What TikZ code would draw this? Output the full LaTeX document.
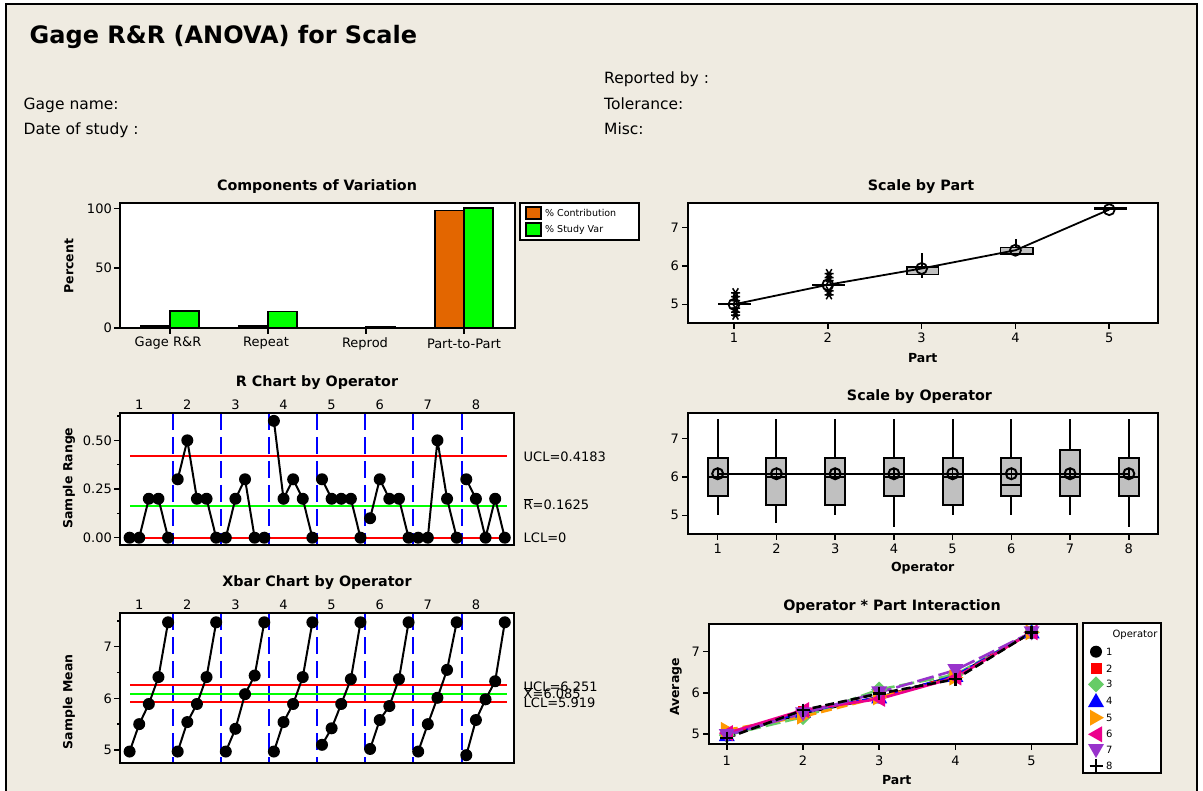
\documentclass[tikz,border=0pt]{standalone}
\usepackage{fontspec}
\setmainfont{DejaVu Sans}
\definecolor{paper}{RGB}{239,235,225}
\definecolor{barorange}{RGB}{227,102,0}
\definecolor{bargreen}{RGB}{0,255,0}
\definecolor{boxgray}{RGB}{192,192,192}
\definecolor{oporange}{RGB}{255,153,0}
\definecolor{opgreen}{RGB}{102,204,102}
\definecolor{oppurple}{RGB}{153,51,204}
\newcommand\fs[1]{\fontsize{#1}{#1}\selectfont}
\tikzset{
  ttl/.style={font=\bfseries\fs{14.3}},
  axlab/.style={font=\bfseries\fs{12.5}},
  num/.style={font=\fs{13}},
  info/.style={font=\fs{15.5}, anchor=base west, inner sep=0pt},
  plotbox/.style={draw=black, line width=2pt},
  axtick/.style={line width=1.5pt},
  divider/.style={draw=blue, line width=2pt, dash pattern=on 17pt off 7pt},
  ctrlred/.style={draw=red, line width=2pt},
  ctrlgreen/.style={draw=bargreen, line width=2pt},
  series/.style={line width=2pt, line join=round},
  ln1/.style={draw=black},
  ln2/.style={draw=red, dash pattern=on 9pt off 4pt},
  ln3/.style={draw=opgreen, dash pattern=on 15pt off 5pt},
  ln4/.style={draw=blue, dash pattern=on 11pt off 3pt on 3pt off 3pt},
  ln5/.style={draw=oporange, dash pattern=on 11pt off 5pt},
  ln6/.style={draw=magenta},
  ln7/.style={draw=oppurple, dash pattern=on 17pt off 5pt},
  ln8/.style={draw=black, dash pattern=on 9pt off 4pt},
}
% operator symbols: #1 = operator number, #2 = coordinate name
\newcommand\opmark[2]{%
  \ifcase#1\or
    \fill[black] (#2) circle[radius=6pt];\or
    \fill[red,shift={(#2)}] (-5.5,-5.5) rectangle (5.5,5.5);\or
    \fill[opgreen,shift={(#2)}] (0,-8) -- (8,0) -- (0,8) -- (-8,0) -- cycle;\or
    \fill[blue,shift={(#2)}] (0,-8) -- (8,6) -- (-8,6) -- cycle;\or
    \fill[oporange,shift={(#2)}] (8,0) -- (-6,-8) -- (-6,8) -- cycle;\or
    \fill[magenta,shift={(#2)}] (-8,0) -- (6,-8) -- (6,8) -- cycle;\or
    \fill[oppurple,shift={(#2)}] (0,8) -- (8,-6) -- (-8,-6) -- cycle;\or
    \draw[line width=2.4pt,shift={(#2)}] (-6.5,0) -- (6.5,0) (0,-6.5) -- (0,6.5);\fi}
\newcommand\astmark[1]{%
  \draw[line width=1.5pt,shift={(#1)}] (-4.5,0) -- (4.5,0) (-2.8,-4.5) -- (2.8,4.5) (2.8,-4.5) -- (-2.8,4.5);}
% subgroup ranges and means, 8 operators x 5 parts
\def\Rvals{{0,0,0.2,0.2,0, 0.3,0.5,0.2,0.2,0, 0,0.2,0.3,0,0, 0.6,0.2,0.3,0.2,0, 0.3,0.2,0.2,0.2,0, 0.1,0.3,0.2,0.2,0, 0,0,0.5,0.2,0, 0.3,0.2,0,0.2,0}}
\def\Xvals{{4.97,5.50,5.89,6.41,7.47, 4.97,5.54,5.89,6.41,7.47, 4.97,5.41,6.08,6.44,7.47, 4.97,5.54,5.89,6.41,7.47, 5.10,5.42,5.89,6.37,7.47, 5.02,5.58,5.85,6.37,7.47, 4.97,5.50,6.01,6.55,7.47, 4.90,5.58,5.98,6.33,7.47}}
\begin{document}
\begin{tikzpicture}[x=1pt,y=-1pt]
\useasboundingbox (0,0) rectangle (1203,791);
\fill[white] (0,0) rectangle (1203,791);
\fill[paper] (6.5,4) rectangle (1196.5,791);
\draw[line width=2pt] (6,791) -- (6,4) -- (1197,4) -- (1197,791);

% ---------- header ----------
\node[anchor=base west, inner sep=0pt, font=\bfseries\fs{24}] (title) at (29.5,44) {Gage R\&R (ANOVA) for Scale};
\node[info] (rep) at (604,84) {Reported by :};
\node[info] (gname) at (23.5,109.5) {Gage name:};
\node[info] (tol) at (604,109.5) {Tolerance:};
\node[info] (date) at (23.5,134.5) {Date of study :};
\node[info] (misc) at (604,134.5) {Misc:};

% ---------- Components of Variation ----------
\node[ttl] (cvt) at (317,186.5) {Components of Variation};
\fill[white] (120,203) rectangle (515,328);
\foreach \c/\o/\g [count=\n] in {170/2.0/14.0, 268/1.9/13.8, 366/0.3/0.8, 464/98.2/100}{
  \draw[fill=barorange, line width=1.8pt] ({\c-29},328) rectangle (\c,{328-1.197*\o});
  \draw[fill=bargreen, line width=1.8pt] (\c,328) rectangle ({\c+29},{328-1.197*\g});
  \draw[axtick] (\c,328) -- (\c,334);
}
\draw[plotbox] (120,203) rectangle (515,328);
\foreach \v in {0,50,100}{
  \draw[axtick] (120,{328-1.197*\v}) -- (114,{328-1.197*\v});
  \node[num, anchor=east, inner sep=1pt] (cv\v) at (113,{328-1.197*\v}) {\v};
}
\node[num] (catA) at (168,343.5) {Gage R\&R};
\node[num] (catB) at (266,343.5) {Repeat};
\node[num] (catC) at (365,343.5) {Reprod};
\node[num] (catD) at (464,343.5) {Part-to-Part};
\node[axlab, rotate=90] (cvy) at (69,266) {Percent};
% legend
\draw[fill=white, line width=2pt] (520,203) rectangle (639,240);
\draw[fill=barorange, line width=1.6pt] (526,207) rectangle (541,219);
\draw[fill=bargreen, line width=1.6pt] (526,223) rectangle (541,236);
\node[anchor=west, inner sep=0pt, font=\fs{9.5}] (legA) at (545,213) {\% Contribution};
\node[anchor=west, inner sep=0pt, font=\fs{9.5}] (legB) at (545,229.5) {\% Study Var};

% ---------- R chart ----------
\node[ttl] (rct) at (317,383) {R Chart by Operator};
\fill[white] (120,413) rectangle (514,545);
\foreach \xd in {173,221,269,317,365,413,462}{
  \draw[divider] (\xd,413) -- (\xd,545);
}
\foreach \k in {1,...,8}{
  \node[num] (rop\k) at ({139.2+48.1*(\k-1)},405) {\k};
}
\draw[ctrlred] (130,456) -- (507,456);
\draw[ctrlgreen] (130,506) -- (507,506);
\draw[ctrlred] (130,538) -- (507,538);
\foreach \i in {0,...,39}{
  \pgfmathsetmacro\xx{129.6+9.62*\i}
  \pgfmathsetmacro\yy{537.7-194.7*\Rvals[\i]}
  \coordinate (r\i) at (\xx,\yy);
}
\foreach \k in {0,...,7}{
  \pgfmathtruncatemacro\pa{5*\k}
  \pgfmathtruncatemacro\pb{5*\k+1}
  \pgfmathtruncatemacro\pc{5*\k+2}
  \pgfmathtruncatemacro\pd{5*\k+3}
  \pgfmathtruncatemacro\pe{5*\k+4}
  \draw[series] (r\pa) -- (r\pb) -- (r\pc) -- (r\pd) -- (r\pe);
}
\foreach \i in {0,...,39}{ \fill (r\i) circle[radius=6pt]; }
\draw[plotbox] (120,413) rectangle (514,545);
\foreach \v in {0,0.25,0.5}{
  \draw[axtick] (120,{537.7-194.7*\v}) -- (114,{537.7-194.7*\v});
}
\foreach \v in {0.125,0.375,0.625}{
  \draw[axtick] (120,{537.7-194.7*\v}) -- (116.5,{537.7-194.7*\v});
}
\node[num, anchor=east, inner sep=1pt] (rt0) at (113,537.7) {0.00};
\node[num, anchor=east, inner sep=1pt] (rt1) at (113,489.0) {0.25};
\node[num, anchor=east, inner sep=1pt] (rt2) at (113,440.3) {0.50};
\node[axlab, rotate=90] (rcy) at (69,478) {Sample Range};
\node[num, anchor=west, inner sep=0pt] (ucl1) at (523.5,456.3) {UCL=0.4183};
\node[num, anchor=west, inner sep=0pt] (rbar) at (523.5,504) {$\overline{\mbox{R}}$=0.1625};
\node[num, anchor=west, inner sep=0pt] (lcl1) at (523.5,537.7) {LCL=0};

% ---------- Xbar chart ----------
\node[ttl] (xct) at (317,583) {Xbar Chart by Operator};
\fill[white] (120,613) rectangle (514,763);
\foreach \xd in {173,221,269,317,365,413,462}{
  \draw[divider] (\xd,613) -- (\xd,763);
}
\foreach \k in {1,...,8}{
  \node[num] (xop\k) at ({139.2+48.1*(\k-1)},605) {\k};
}
\draw[ctrlred] (130,685) -- (507,685);
\draw[ctrlgreen] (130,694) -- (507,694);
\draw[ctrlred] (130,702) -- (507,702);
\foreach \i in {0,...,39}{
  \pgfmathsetmacro\xx{129.6+9.62*\i}
  \pgfmathsetmacro\yy{698.3-51.7*(\Xvals[\i]-6)}
  \coordinate (x\i) at (\xx,\yy);
}
\foreach \k in {0,...,7}{
  \pgfmathtruncatemacro\pa{5*\k}
  \pgfmathtruncatemacro\pb{5*\k+1}
  \pgfmathtruncatemacro\pc{5*\k+2}
  \pgfmathtruncatemacro\pd{5*\k+3}
  \pgfmathtruncatemacro\pe{5*\k+4}
  \draw[series] (x\pa) -- (x\pb) -- (x\pc) -- (x\pd) -- (x\pe);
}
\foreach \i in {0,...,39}{ \fill (x\i) circle[radius=6pt]; }
\draw[plotbox] (120,613) rectangle (514,763);
\foreach \v in {5,6,7}{
  \draw[axtick] (120,{698.3-51.7*(\v-6)}) -- (114,{698.3-51.7*(\v-6)});
  \node[num, anchor=east, inner sep=1pt] (xt\v) at (113,{698.3-51.7*(\v-6)}) {\v};
}
\foreach \v in {5.5,6.5,7.5}{
  \draw[axtick] (120,{698.3-51.7*(\v-6)}) -- (116.5,{698.3-51.7*(\v-6)});
}
\node[axlab, rotate=90] (xcy) at (69,702) {Sample Mean};
\node[num, anchor=west, inner sep=0pt] (ucl2) at (523.5,686.5) {UCL=6.251};
\node[num, anchor=west, inner sep=0pt] (xbar) at (523.5,693) {$\overline{\mbox{X}}$=6.085};
\node[num, anchor=west, inner sep=0pt] (lcl2) at (523.5,702.5) {LCL=5.919};

% ---------- Scale by Part ----------
\node[ttl] (spt) at (921,186.5) {Scale by Part};
\fill[white] (688,203) rectangle (1158,323);
% boxes
\draw[line width=2.2pt] (718,{266-38.35*(5.0-6)}) -- (751,{266-38.35*(5.0-6)});
\draw[line width=2.2pt] (812,{266-38.35*(5.5-6)}) -- (845,{266-38.35*(5.5-6)});
\draw[line width=1.8pt] (921.6,{266-38.35*(6.33-6)}) -- (921.6,{266-38.35*(5.7-6)});
\draw[fill=boxgray, line width=1.8pt] (907,{266-38.35*(5.78-6)}) rectangle (938.5,{266-38.35*(5.98-6)});
\draw[line width=1.8pt] (1016,{266-38.35*(6.7-6)}) -- (1016,{266-38.35*(6.48-6)});
\draw[fill=boxgray, line width=1.8pt] (1000.5,{266-38.35*(6.32-6)}) rectangle (1033,{266-38.35*(6.48-6)});
\draw[line width=2.2pt] (1094,{266-38.35*(7.5-6)}) -- (1127,{266-38.35*(7.5-6)});
% outliers
\foreach \v [count=\n] in {4.72,4.8,4.9,5.1,5.2,5.3}{
  \coordinate (oa\n) at (735.5,{266-38.35*(\v-6)});
  \astmark{oa\n}
}
\foreach \v [count=\n] in {5.25,5.35,5.62,5.7,5.8}{
  \coordinate (ob\n) at (829,{266-38.35*(\v-6)});
  \astmark{ob\n}
}
% part means
\foreach \p/\m in {1/5.0,2/5.51,3/5.935,4/6.41,5/7.47}{
  \coordinate (pm\p) at ({734+93.8*(\p-1)},{266-38.35*(\m-6)});
}
\draw[line width=1.8pt, line join=round] (pm1) -- (pm2) -- (pm3) -- (pm4) -- (pm5);
\foreach \p in {1,...,5}{ \draw[line width=1.8pt] (pm\p) circle[radius=5.5pt]; }
\draw[plotbox] (688,203) rectangle (1158,323);
\foreach \v in {5,6,7}{
  \draw[axtick] (688,{266-38.35*(\v-6)}) -- (682,{266-38.35*(\v-6)});
  \node[num, anchor=east, inner sep=1pt] (pt\v) at (680,{266-38.35*(\v-6)}) {\v};
}
\foreach \p in {1,...,5}{
  \draw[axtick] ({734+93.8*(\p-1)},323) -- ({734+93.8*(\p-1)},329);
  \node[num] (px\p) at ({734+93.8*(\p-1)},337.5) {\p};
}
\node[axlab] (spx) at (922.7,358) {Part};

% ---------- Scale by Operator ----------
\node[ttl] (sot) at (919.5,397) {Scale by Operator};
\fill[white] (688,413) rectangle (1158,534);
\foreach \o/\qa/\md/\qc/\lo/\hi in {1/5.5/6.0/6.5/5.0/7.5, 2/5.28/6.0/6.5/4.8/7.5, 3/5.28/6.0/6.5/5.0/7.5, 4/5.5/6.0/6.5/4.7/7.5, 5/5.28/6.0/6.5/5.0/7.5, 6/5.5/5.78/6.5/5.0/7.5, 7/5.5/6.0/6.7/5.0/7.5, 8/5.5/6.0/6.5/4.7/7.5}{
  \pgfmathsetmacro\xo{717.7+58.73*(\o-1)}
  \draw[line width=2pt] (\xo,{477-38.35*(\hi-6)}) -- (\xo,{477-38.35*(\lo-6)});
  \draw[fill=boxgray, line width=2pt] ({\xo-10},{477-38.35*(\qa-6)}) rectangle ({\xo+10},{477-38.35*(\qc-6)});
  \draw[line width=2pt] ({\xo-10},{477-38.35*(\md-6)}) -- ({\xo+10},{477-38.35*(\md-6)});
  \coordinate (om\o) at (\xo,{477-38.35*(6.085-6)});
}
\draw[line width=2pt] (om1) -- (om8);
\foreach \o in {1,...,8}{
  \draw[line width=2pt] (om\o) circle[radius=5.5pt];
  \draw[line width=1.6pt,shift={(om\o)}] (0,-5.5) -- (0,5.5);
}
\draw[plotbox] (688,413) rectangle (1158,534);
\foreach \v in {5,6,7}{
  \draw[axtick] (688,{477-38.35*(\v-6)}) -- (682,{477-38.35*(\v-6)});
  \node[num, anchor=east, inner sep=1pt] (ot\v) at (680,{477-38.35*(\v-6)}) {\v};
}
\foreach \o in {1,...,8}{
  \draw[axtick] ({717.7+58.73*(\o-1)},534) -- ({717.7+58.73*(\o-1)},540);
  \node[num] (ox\o) at ({717.7+58.73*(\o-1)},549) {\o};
}
\node[axlab] (sox) at (922.7,568.5) {Operator};

% ---------- Operator * Part Interaction ----------
\node[ttl] (ipt) at (892,607) {Operator * Part Interaction};
\fill[white] (709,624) rectangle (1077,744);
\foreach \k in {0,...,7}{
  \foreach \p in {0,...,4}{
    \pgfmathtruncatemacro\idx{5*\k+\p}
    \pgfmathsetmacro\xx{726.8+76.2*\p}
    \pgfmathsetmacro\yy{692.8-41.15*(\Xvals[\idx]-6)}
    \coordinate (i\k-\p) at (\xx,\yy);
  }
}
\foreach \k in {0,...,7}{
  \pgfmathtruncatemacro\op{\k+1}
  \draw[series, line width=2.6pt, ln\op] (i\k-0) -- (i\k-1) -- (i\k-2) -- (i\k-3) -- (i\k-4);
}
\foreach \k in {0,...,7}{
  \pgfmathtruncatemacro\op{\k+1}
  \foreach \p in {0,...,4}{ \opmark{\op}{i\k-\p} }
}
\draw[plotbox] (709,624) rectangle (1077,744);
\foreach \v in {5,6,7}{
  \draw[axtick] (709,{692.8-41.15*(\v-6)}) -- (703,{692.8-41.15*(\v-6)});
  \node[num, anchor=east, inner sep=1pt] (it\v) at (701,{692.8-41.15*(\v-6)}) {\v};
}
\foreach \p in {1,...,5}{
  \draw[axtick] ({726.8+76.2*(\p-1)},744) -- ({726.8+76.2*(\p-1)},750);
  \node[num] (ix\p) at ({726.8+76.2*(\p-1)},760.5) {\p};
}
\node[axlab] (ipx) at (896.7,780) {Part};
\node[axlab, rotate=90] (ipy) at (676,687) {Average};
% legend
\draw[fill=white, line width=2pt] (1083,623) rectangle (1161,773);
\node[font=\fs{10}] (lgt) at (1135,635) {Operator};
\foreach \o/\yy in {1/651.7,2/668.3,3/684.3,4/701,5/717.7,6/734.3,7/750,8/765.7}{
  \coordinate (lm\o) at (1096,\yy);
  \opmark{\o}{lm\o}
  \node[anchor=west, inner sep=0pt, font=\fs{10}] (lt\o) at (1106,\yy) {\o};
}
\end{tikzpicture}
\end{document}
